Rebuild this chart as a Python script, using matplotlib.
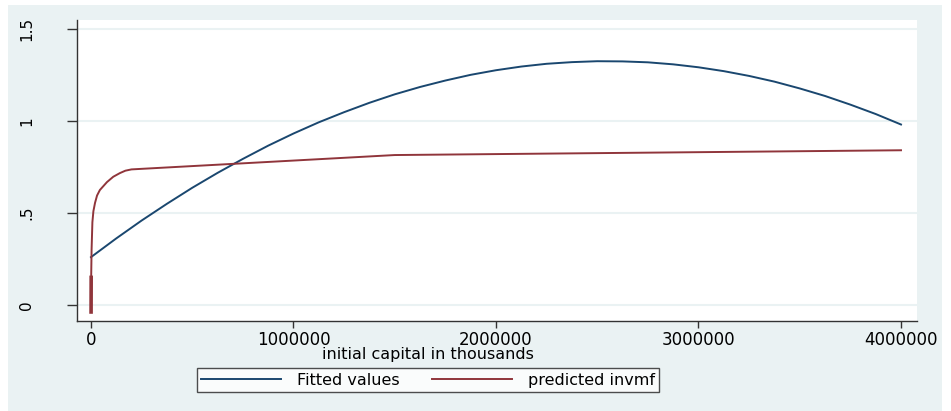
import matplotlib
matplotlib.use("Agg")
import matplotlib.pyplot as plt
from matplotlib.patches import Rectangle

# Values
fit_x = [0, 125000, 250000, 375000, 500000, 625000, 750000, 875000, 1000000,
         1125000, 1250000, 1375000, 1500000, 1625000, 1750000, 1875000, 2000000,
         2125000, 2250000, 2375000, 2500000, 2625000, 2750000, 2875000, 3000000,
         3125000, 3250000, 3375000, 3500000, 3625000, 3750000, 3875000, 4000000]
fit_y = [0.26, 0.362, 0.459, 0.550, 0.637, 0.718, 0.794, 0.866, 0.932,
         0.993, 1.048, 1.099, 1.145, 1.185, 1.220, 1.251, 1.276,
         1.296, 1.311, 1.320, 1.325, 1.324, 1.319, 1.308, 1.292,
         1.271, 1.245, 1.214, 1.177, 1.136, 1.089, 1.038, 0.981]

pred_x = [500, 1000, 3000, 7000, 12000, 20000, 30000, 44000, 79000, 110000,
          143000, 170000, 200000, 1500000, 4000000]
pred_y = [-0.038, 0.15, 0.30, 0.45, 0.51, 0.555, 0.595, 0.625, 0.668, 0.697,
          0.717, 0.730, 0.737, 0.815, 0.841]

x_ticks = [0, 1000000, 2000000, 3000000, 4000000]
y_ticks = [0, 0.5, 1, 1.5]
y_tick_labels = ["0", ".5", "1", "1.5"]

BG = "#eaf2f3"
BLUE = "#1a476f"
RED = "#90353b"

fig = plt.figure(figsize=(9.51, 4.11), dpi=100)
fig.patch.set_facecolor("white")
fig.patches.append(Rectangle((8 / 951, 0), 934 / 951, 406 / 411,
                             transform=fig.transFigure, facecolor=BG,
                             edgecolor="none", zorder=-10))

ax = fig.add_axes([77 / 951, 1 - 321 / 411, 840 / 951, 301 / 411])
ax.set_facecolor("white")

ax.plot(fit_x, fit_y, color=BLUE, lw=1.4, label="Fitted values", zorder=3)
ax.plot(pred_x, pred_y, color=RED, lw=1.4, label="predicted invmf", zorder=3)
ax.plot(pred_x[:2], pred_y[:2], color=RED, lw=2.6, zorder=3)

ax.set_xlim(-0.069e6, 4.079e6)
ax.set_ylim(-0.087, 1.549)

ax.set_yticks(y_ticks)
ax.set_yticklabels(y_tick_labels, rotation=90, va="center", fontsize=11)
ax.set_xticks(x_ticks)
ax.set_xticklabels([str(v) for v in x_ticks], fontsize=12)

ax.grid(axis="y", color=BG, lw=1.5, zorder=0)
ax.grid(axis="x", visible=False)

for s in ["top", "right"]:
    ax.spines[s].set_visible(False)
for s in ["left", "bottom"]:
    ax.spines[s].set_color("#333333")
    ax.spines[s].set_linewidth(1.0)

ax.tick_params(axis="y", length=7, width=1, color="#333333", pad=24)
ax.tick_params(axis="x", length=5, width=1, color="#333333", pad=2)

ax.set_xlabel("initial capital in thousands", fontsize=11.5)
ax.xaxis.set_label_coords(0.418, -0.088)

leg = fig.legend(loc="center", bbox_to_anchor=(428 / 951, 1 - 380 / 411), ncol=2,
                 fontsize=11.5, frameon=True, fancybox=False, handlelength=5.0,
                 columnspacing=2.0, borderpad=0.3, handletextpad=1.0)
leg.get_frame().set_edgecolor("#222222")
leg.get_frame().set_linewidth(1.0)

fig.savefig("out.png", dpi=100)
